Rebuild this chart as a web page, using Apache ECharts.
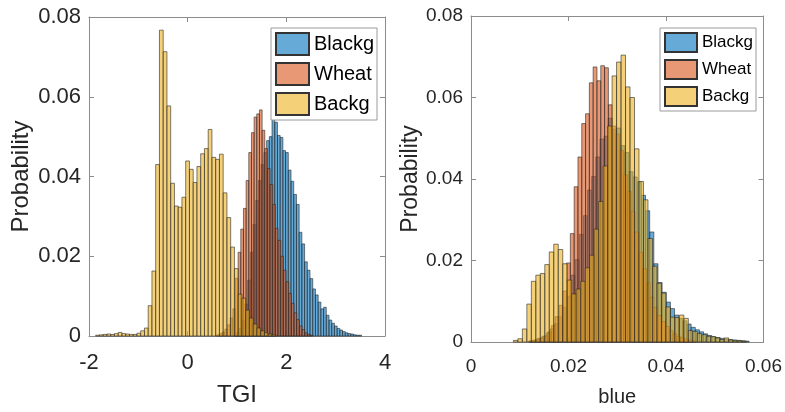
<!DOCTYPE html>
<html>
<head>
<meta charset="utf-8">
<title>TGI / blue histograms</title>
<script src="https://cdn.jsdelivr.net/npm/echarts@6/dist/echarts.min.js"></script>
<style>
  html, body { margin: 0; padding: 0; background: #fff; }
  #main { width: 785px; height: 412px; }
</style>
</head>
<body>
<div id="main"></div>
<script>
var names = ['Blackg', 'Wheat', 'Backg'];

// left panel: TGI, bins given by first edge + bin width
var tgiBlackgStart = 0.94, tgiBlackgWidth = 0.055;
var tgiBlackg = [0.0005, 0.001, 0.002, 0.004, 0.008, 0.014, 0.021, 0.028, 0.034, 0.039,
  0.043, 0.046, 0.049, 0.050, 0.0553, 0.0536, 0.0503, 0.0498, 0.0465, 0.046,
  0.0416, 0.0388, 0.0355, 0.033, 0.026, 0.0231, 0.0186, 0.0165, 0.0144, 0.0118,
  0.0103, 0.0085, 0.0068, 0.0072, 0.0052, 0.004, 0.0032, 0.0025, 0.0019, 0.0015,
  0.0011, 0.0008, 0.0006, 0.0005, 0.0003, 0.0002, 0.0002];

var tgiWheatStart = 0.591, tgiWheatWidth = 0.054;
var tgiWheat = [0.0003, 0.0006, 0.0010, 0.0017, 0.0028, 0.0045, 0.0068, 0.0145, 0.021, 0.0268,
  0.032, 0.039, 0.046, 0.051, 0.0549, 0.0557, 0.0567, 0.0516, 0.047, 0.042,
  0.038, 0.033, 0.027, 0.024, 0.020, 0.0165, 0.0136, 0.0107, 0.0082, 0.0058,
  0.0041, 0.0025, 0.0016, 0.0008, 0.0004, 0.0002];

var tgiBackgStart = -1.864, tgiBackgWidth = 0.076;
var tgiBackg = [0.0002, 0.0003, 0.0004, 0.0005, 0.0004, 0.0006, 0.0009, 0.0006, 0.0005, 0.0004,
  0.0004, 0.0007, 0.0013,
  0.0020, 0.0076, 0.0163, 0.0430, 0.0767, 0.0713, 0.0577, 0.0383, 0.0326, 0.0323,
  0.0348, 0.0439, 0.0418, 0.0385, 0.0425, 0.0457, 0.0470, 0.0518, 0.0448, 0.0443,
  0.0456, 0.0359, 0.0297, 0.0223, 0.0169,
  0.0105, 0.0095, 0.0065, 0.0045, 0.0030, 0.0020, 0.0013, 0.0008, 0.0005, 0.0003];

// right panel: blue
var blueBlackgStart = 0.012, blueBlackgWidth = 0.00085;
var blueBlackg = [0.0003, 0.0005, 0.0009, 0.0014, 0.0022, 0.0032, 0.0045, 0.0062, 0.0085, 0.0112,
  0.0164, 0.0202, 0.0264, 0.031, 0.0373, 0.0406, 0.0454, 0.0498, 0.0505, 0.0549,
  0.0522, 0.0525, 0.0482, 0.0465, 0.0418, 0.0405, 0.0393, 0.036, 0.0322, 0.027,
  0.0192, 0.0146, 0.0122, 0.0098, 0.0082, 0.0066, 0.0058, 0.0052, 0.0044, 0.0036,
  0.003, 0.0025, 0.002, 0.0016, 0.0013, 0.0011, 0.0009, 0.0007, 0.0006, 0.0005,
  0.0004, 0.0003, 0.0002];

var blueWheatStart = 0.0118, blueWheatWidth = 0.00078;
var blueWheat = [0.0002, 0.0004, 0.0007, 0.001, 0.0015, 0.0025, 0.004, 0.0062, 0.009, 0.0125,
  0.0194, 0.0266, 0.0381, 0.0454, 0.0536, 0.056, 0.0636, 0.0675, 0.0641, 0.0678,
  0.0673, 0.0582, 0.053, 0.051, 0.047, 0.041, 0.037, 0.032, 0.027, 0.022,
  0.018, 0.0145, 0.011, 0.0085, 0.0065, 0.005, 0.0038, 0.0028, 0.002, 0.0014,
  0.001, 0.0007, 0.0005, 0.0003];

var blueBackgStart = 0.0087, blueBackgWidth = 0.00092;
var blueBackg = [0.0004, 0.0008, 0.0032, 0.0093, 0.0149, 0.0164, 0.0168, 0.019, 0.0221, 0.024,
  0.0227, 0.0192, 0.0152, 0.0118, 0.013, 0.0149, 0.0182, 0.0213, 0.0277, 0.0345,
  0.0432, 0.053, 0.0653, 0.0687, 0.0704, 0.0626, 0.060, 0.0474, 0.0394, 0.0349,
  0.0254, 0.0186, 0.0144, 0.012, 0.0086, 0.0061, 0.006, 0.0066, 0.0058, 0.0028,
  0.0026, 0.0021, 0.0018, 0.0014, 0.0013, 0.001, 0.0006, 0.001, 0.0005, 0.0003,
  0.0003, 0.0002];

var fills = ['rgba(0,114,189,0.6)', 'rgba(217,83,25,0.6)', 'rgba(237,177,32,0.6)'];
var edge = 'rgba(38,38,38,0.85)';
var axisColor = '#8c8c8c';
var textColor = '#262626';

function bins(start, width, values) {
  return values.map(function (v, i) {
    return [start + i * width, start + (i + 1) * width, v];
  });
}

function renderBin(params, api) {
  var a = api.coord([api.value(0), api.value(2)]);
  var b = api.coord([api.value(1), 0]);
  return {
    type: 'rect',
    shape: { x: a[0], y: a[1], width: b[0] - a[0], height: b[1] - a[1] },
    style: { fill: api.visual('color'), stroke: edge, lineWidth: 0.7 }
  };
}

function hist(name, idx, axis, data) {
  return {
    type: 'custom',
    name: name,
    xAxisIndex: axis,
    yAxisIndex: axis,
    renderItem: renderBin,
    encode: { x: [0, 1], y: 2 },
    itemStyle: { color: fills[idx], borderColor: '#333', borderWidth: 1 },
    data: data
  };
}

function xAxes(grid, min, max, step, name, labelSize, nameSize, nameGap, margin) {
  var base = {
    gridIndex: grid, type: 'value', min: min, max: max, interval: step,
    axisLine: { show: true, onZero: false, lineStyle: { color: axisColor } },
    axisTick: { inside: true, length: 5, lineStyle: { color: axisColor } },
    splitLine: { show: false }
  };
  var bottom = Object.assign({}, base, {
    position: 'bottom', name: name, nameLocation: 'middle', nameGap: nameGap,
    nameTextStyle: { fontSize: nameSize, color: textColor, fontFamily: 'Liberation Sans' },
    axisLabel: { fontSize: labelSize, color: textColor, margin: margin, fontFamily: 'Liberation Sans' }
  });
  var top = Object.assign({}, base, { position: 'top', axisLabel: { show: false } });
  return [bottom, top];
}

function yAxes(grid, name, labelSize, nameSize, nameGap) {
  var base = {
    gridIndex: grid, type: 'value', min: 0, max: 0.08, interval: 0.02,
    axisLine: { show: true, onZero: false, lineStyle: { color: axisColor } },
    axisTick: { inside: true, length: 5, lineStyle: { color: axisColor } },
    splitLine: { show: false }
  };
  var left = Object.assign({}, base, {
    position: 'left', name: name, nameLocation: 'middle', nameGap: nameGap,
    nameTextStyle: { fontSize: nameSize, color: textColor, fontFamily: 'Liberation Sans' },
    axisLabel: { fontSize: labelSize, color: textColor, margin: 8, fontFamily: 'Liberation Sans' }
  });
  var right = Object.assign({}, base, { position: 'right', axisLabel: { show: false } });
  return [left, right];
}

var chart = echarts.init(document.getElementById('main'));

var xs = xAxes(0, -2, 4, 2, 'TGI', 22, 24, 47, 16).concat(xAxes(1, 0, 0.06, 0.02, 'blue', 19, 20, 45, 15));
var ys = yAxes(0, 'Probability', 22, 24, 56).concat(yAxes(1, 'Probability', 19, 23, 45));
// series use bottom/left axes: index 0 for left panel, 2 for right panel
var option = {
  animation: false,
  grid: [
    { left: 89, right: 400, top: 17, bottom: 72 },
    { left: 471, right: 21, top: 16, bottom: 63 }
  ],
  legend: [
    {
      data: names, left: 271, top: 28, orient: 'vertical', icon: 'rect',
      itemWidth: 33, itemHeight: 22, itemGap: 6, padding: [4, 3, 4, 4],
      backgroundColor: '#fff', borderColor: '#9a9a9a', borderWidth: 1,
      textStyle: { fontSize: 20, color: '#000', fontFamily: 'Liberation Sans' }
    },
    {
      data: names, left: 660, top: 28, orient: 'vertical', icon: 'rect',
      itemWidth: 32, itemHeight: 19, itemGap: 6, padding: [4, 3, 4, 4],
      backgroundColor: '#fff', borderColor: '#9a9a9a', borderWidth: 1,
      textStyle: { fontSize: 17, color: '#000', fontFamily: 'Liberation Sans' }
    }
  ],
  xAxis: xs,
  yAxis: ys,
  series: [
    hist('Blackg', 0, 0, bins(tgiBlackgStart, tgiBlackgWidth, tgiBlackg)),
    hist('Wheat', 1, 0, bins(tgiWheatStart, tgiWheatWidth, tgiWheat)),
    hist('Backg', 2, 0, bins(tgiBackgStart, tgiBackgWidth, tgiBackg)),
    hist('Blackg', 0, 2, bins(blueBlackgStart, blueBlackgWidth, blueBlackg)),
    hist('Wheat', 1, 2, bins(blueWheatStart, blueWheatWidth, blueWheat)),
    hist('Backg', 2, 2, bins(blueBackgStart, blueBackgWidth, blueBackg))
  ]
};
chart.setOption(option);
</script>
</body>
</html>
